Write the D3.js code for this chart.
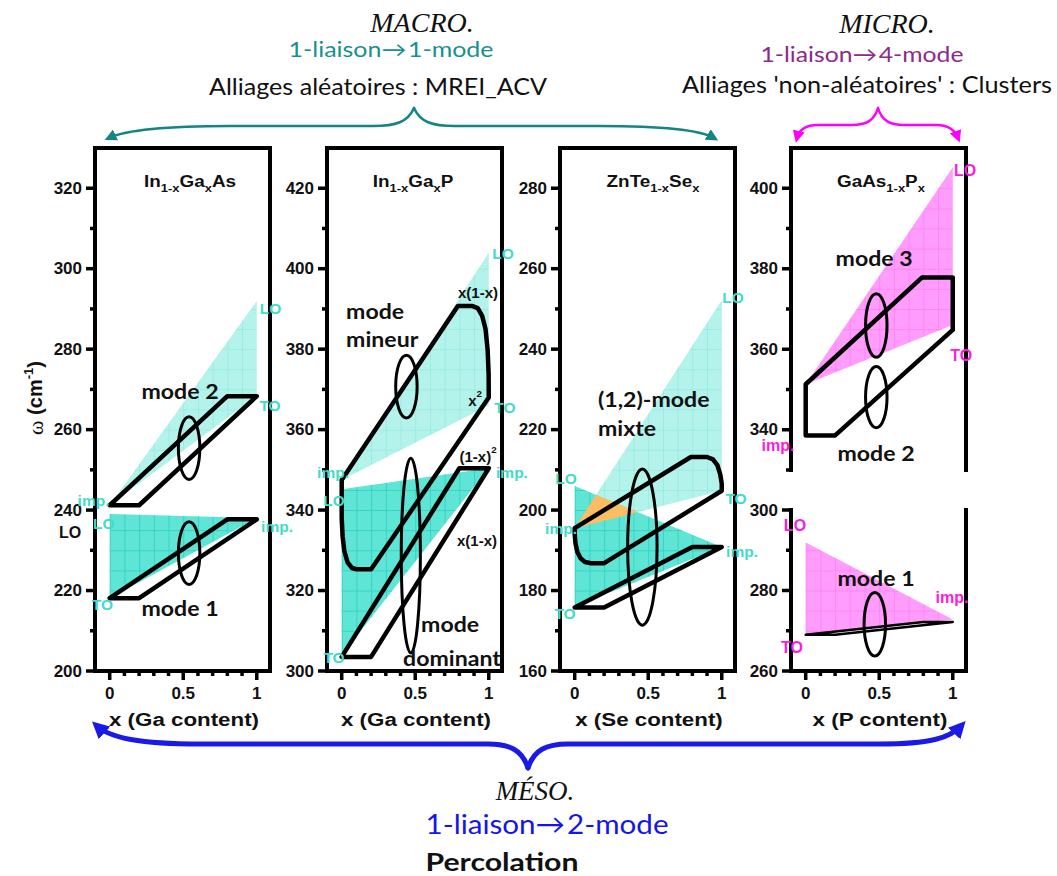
<!DOCTYPE html>
<html><head><meta charset="utf-8">
<script src="https://cdn.jsdelivr.net/npm/d3@7/dist/d3.min.js"></script>
<style>html,body{margin:0;padding:0;background:#fff;} svg{display:block;}</style>
</head><body>
<svg id="chart" width="1057" height="876"></svg>
<script>
// ================= DATA =================
const xMajorTicks = [0, 0.5, 1];
const xMinorTicks = [0.1, 0.2, 0.3, 0.4, 0.6, 0.7, 0.8, 0.9];
const xTickText = ["0", "0.5", "1"];
const xAxisTitles = ["x (Ga content)", "x (Ga content)", "x (Se content)", "x (P content)"];

// Panel 1 : In1-xGaxAs
const ingaasTitle = [["In", 0], ["1-x", 1], ["Ga", 0], ["x", 1], ["As", 0]];
const ingaasMajor = [200, 220, 240, 260, 280, 300, 320];
const ingaasMinor = [210, 230, 250, 270, 290, 310];
const ingaasLight = [[0, 241.2], [1, 292], [1, 268.3]];
const ingaasDense = [[0, 239], [1, 238], [0, 218.1]];
const ingaasMode2 = [[0, 241.2], [0.2, 241.2], [1, 268.3], [0.8, 268.3]];
const ingaasMode1 = [[0, 218.1], [0.2, 218.1], [1, 237.7], [0.8, 237.7]];
const ingaasEllipses = [[0.54, 255.4, 0.073, 7.8], [0.54, 229.3, 0.073, 7.8]];
const ingaasLabels = [
  ["LO", 1.094, 290.2, "c"], ["TO", 1.09, 266.1, "c"], ["imp.", -0.11, 242.5, "c"],
  ["LO", -0.04, 236.8, "c"], ["TO", -0.05, 216.7, "c"], ["imp.", 1.138, 236.0, "c"],
  ["LO", -0.27, 234.6, "k"], ["mode 2", 0.478, 269.8, "m"], ["mode 1", 0.478, 215.9, "m"]
];

// Panel 2 : In1-xGaxP
const ingapTitle = [["In", 0], ["1-x", 1], ["Ga", 0], ["x", 1], ["P", 0]];
const ingapMajor = [300, 320, 340, 360, 380, 400, 420];
const ingapMinor = [310, 330, 350, 370, 390, 410];
const ingapLight = [[0, 347.5], [1, 404], [1, 366]];
const ingapDense = [[0, 345.2], [1, 350.4], [0, 304]];
const ingapMineur = [
  [0, 347.5], [0.79, 390.7], [0.89, 390.7], [0.925, 390.2], [0.955, 388.3], [0.978, 385],
  [0.992, 380], [0.999, 374], [1, 368], [0.2, 325.3], [0.1, 325.3], [0.07, 325.6],
  [0.04, 327], [0.018, 329.8], [0.006, 333.5], [0, 338]
];
const ingapDominant = [[0, 303.5], [0.2, 303.5], [1, 350.4], [0.8, 350.4]];
const ingapEllipses = [[0.44, 370.7, 0.073, 7.8], [0.47, 328.7, 0.065, 24.2]];
const ingapLabels = [
  ["mode", 0.03, 389.7, "ms"], ["mineur", 0.03, 382.7, "ms"],
  ["x(1-x)", 0.927, 394.2, "s"], ["x^2", 0.907, 367.4, "s"], ["(1-x)^2", 0.927, 353.4, "s"],
  ["x(1-x)", 0.92, 332.6, "s"], ["mode", 0.737, 311.9, "m"], ["dominant", 0.75, 303.5, "m"],
  ["LO", 1.097, 403.9, "c"], ["TO", 1.11, 365.6, "c"], ["imp.", -0.059, 349.5, "c"],
  ["LO", -0.052, 342.5, "c"], ["TO", -0.052, 303.5, "c"], ["imp.", 1.158, 349.5, "c"]
];

// Panel 3 : ZnTe1-xSex
const zntesTitle = [["ZnTe", 0], ["1-x", 1], ["Se", 0], ["x", 1]];
const zntesMajor = [160, 180, 200, 220, 240, 260, 280];
const zntesMinor = [170, 190, 210, 230, 250, 270];
const zntesLight = [[0, 195.5], [1, 252.2], [1, 204.8]];
const zntesDense = [[0, 206], [1, 190.8], [0, 176]];
const zntesMixte = [
  [0, 195.5], [0.79, 213.2], [0.9, 213.2], [0.94, 212.6], [0.97, 211.2], [0.99, 208.8],
  [1, 206.5], [1, 204.8], [0.2, 186.8], [0.11, 186.8], [0.07, 187.1], [0.04, 188],
  [0.018, 189.6], [0.005, 191.8], [0, 194]
];
const zntesLower = [[0, 175.8], [0.2, 175.8], [1, 190.8], [0.8, 190.8]];
const zntesEllipses = [[0.46, 190.8, 0.1, 19.4]];
const zntesLabels = [
  ["(1,2)-mode", 0.158, 227.9, "ms"], ["mixte", 0.158, 220.7, "ms"],
  ["LO", 1.077, 253, "c"], ["TO", 1.097, 203, "c"], ["LO", -0.059, 208, "c"],
  ["imp.", -0.093, 195.5, "c"], ["TO", -0.066, 174.4, "c"], ["imp.", 1.138, 189.8, "c"]
];

// Panel 4 : GaAs1-xPx (broken axis)
const gaaspTitle = [["GaAs", 0], ["1-x", 1], ["P", 0], ["x", 1]];
const gaaspUpMajor = [340, 360, 380, 400];
const gaaspUpMinor = [330, 350, 370, 390];
const gaaspUpLight = [[0, 351.3], [1, 405.2], [1, 366]];
const gaaspHexagon = [[0, 351.3], [0.79, 377.8], [1, 377.8], [1, 364.8], [0.2, 338.6], [0, 338.6]];
const gaaspUpEllipses = [[0.48, 365.9, 0.073, 7.9], [0.48, 348.1, 0.073, 7.6]];
const gaaspUpLabels = [
  ["mode 3", 0.465, 382.9, "m"], ["mode 2", 0.478, 334.5, "m"],
  ["LO", 1.084, 404.6, "g"], ["TO", 1.057, 358.6, "g"], ["imp.", -0.188, 336.2, "g"]
];
const gaaspLoMajor = [260, 280, 300];
const gaaspLoMinor = [270, 290];
const gaaspLoLight = [[0, 291.9], [1, 272.8], [0, 269]];
const gaaspMode1 = [[0, 269], [0.2, 269], [1, 272.2], [0.8, 272.2]];
const gaaspLoEllipses = [[0.47, 271.6, 0.073, 7.9]];
const gaaspLoLabels = [
  ["mode 1", 0.478, 283.4, "m"], ["LO", -0.073, 296.3, "g"],
  ["imp.", 0.995, 278.4, "g"], ["TO", -0.093, 266, "g"]
];

// ================= STYLE / LAYOUT =================
const SANS = "'Liberation Sans', Arial, sans-serif";
const CAL = "Lato, 'Open Sans', sans-serif";
const SERIF = "'Liberation Serif', 'Times New Roman', serif";
const CYAN_LIGHT = "#b4f3ec", CYAN_DENSE = "#5ee5d6", CYAN_GRID = "#33d2c1";
const CYAN_TXT = "#3fdcc9", MAG = "#ff00ff", MAG_LIGHT = "#ff9cfc", MAG_TXT = "#ff1ad9", ORANGE = "#fdbd62";
const TOP = 148, BOTTOM = 671, PW = 175;

const labelStyles = {
  c: {font: SANS, size: 15.5, color: CYAN_TXT, anchor: "middle", stretch: 1},
  g: {font: SANS, size: 16, color: MAG_TXT, anchor: "middle", stretch: 1},
  k: {font: SANS, size: 16, color: "#111", anchor: "middle", stretch: 1},
  s: {font: SANS, size: 15, color: "#111", anchor: "middle", stretch: 1},
  m: {font: CAL, size: 21, color: "#111", anchor: "middle", stretch: 1.1},
  ms: {font: CAL, size: 21, color: "#111", anchor: "start", stretch: 1.1}
};

const panels = [
  {left: 95, title: ingaasTitle, titleX: 190, yTitle: true, segs: [
    {domain: [200, 330], range: [BOTTOM, TOP], top: true, bottom: true, major: ingaasMajor, minor: ingaasMinor,
     tone: "cyan", light: ingaasLight, dense: ingaasDense, shapes: [ingaasMode2, ingaasMode1],
     ellipses: ingaasEllipses, labels: ingaasLabels}]},
  {left: 327, title: ingapTitle, titleX: 413, segs: [
    {domain: [300, 430], range: [BOTTOM, TOP], top: true, bottom: true, major: ingapMajor, minor: ingapMinor,
     tone: "cyan", light: ingapLight, dense: ingapDense, shapes: [ingapMineur, ingapDominant],
     ellipses: ingapEllipses, labels: ingapLabels}]},
  {left: 560, title: zntesTitle, titleX: 653, segs: [
    {domain: [160, 290], range: [BOTTOM, TOP], top: true, bottom: true, major: zntesMajor, minor: zntesMinor,
     tone: "cyan", light: zntesLight, dense: zntesDense, overlap: true, shapes: [zntesMixte, zntesLower],
     ellipses: zntesEllipses, labels: zntesLabels}]},
  {left: 791, title: gaaspTitle, titleX: 881, segs: [
    {domain: [330, 410], range: [470, TOP], top: true, bottom: false, major: gaaspUpMajor, minor: gaaspUpMinor,
     tone: "mag", light: gaaspUpLight, shapes: [gaaspHexagon], ellipses: gaaspUpEllipses, labels: gaaspUpLabels},
    {domain: [260, 300], range: [BOTTOM, 510], top: false, bottom: true, major: gaaspLoMajor, minor: gaaspLoMinor,
     tone: "mag", light: gaaspLoLight, shapes: [gaaspMode1], thin: true, ellipses: gaaspLoEllipses, labels: gaaspLoLabels}]}
];

// ================= DRAW =================
const svg = d3.select("#chart");
const defs = svg.append("defs");
svg.append("rect").attr("width", 1057).attr("height", 876).attr("fill", "#fff");

function stretchTo(t, w) {
  t.attr("textLength", w).attr("lengthAdjust", "spacingAndGlyphs");
}
function stretchBy(t, f) {
  const L = t.node().getComputedTextLength();
  stretchTo(t, L * f);
}
function gridPattern(id, x0, y0, w, h, color, op) {
  const p = defs.append("pattern").attr("id", id).attr("x", x0).attr("y", y0)
    .attr("width", w).attr("height", h).attr("patternUnits", "userSpaceOnUse");
  p.append("path").attr("d", `M0,0.5H${w}M0.5,0V${h}`).attr("fill", "none")
    .attr("stroke", color).attr("stroke-width", 1).attr("stroke-opacity", op);
}
function marker(id, color, size) {
  defs.append("marker").attr("id", id).attr("viewBox", "0 0 10 10").attr("refX", 6).attr("refY", 5)
    .attr("markerWidth", size).attr("markerHeight", size).attr("markerUnits", "userSpaceOnUse")
    .attr("orient", "auto")
    .append("path").attr("d", "M0,0L10,5L0,10z").attr("fill", color);
}
marker("arTeal", "#138585", 12);
marker("arMag", MAG, 12);
marker("arBlue", "#1a1ae6", 17);

let segCount = 0;
panels.forEach((p, pi) => {
  const x = d3.scaleLinear().domain([-0.1, 1.09]).range([p.left, p.left + PW]);
  const right = p.left + PW;
  const pg = svg.append("g");

  p.segs.forEach(s => {
    const sid = segCount++;
    const y = d3.scaleLinear().domain(s.domain).range(s.range);
    const line = d3.line().x(d => x(d[0])).y(d => y(d[1])).curve(d3.curveLinearClosed);
    const gw = x(0.1) - x(0), gh = Math.abs(y(s.domain[0] + 5) - y(s.domain[0]));
    const cyan = s.tone === "cyan";
    gridPattern("gridL" + sid, x(0), y(s.domain[0]), gw, gh, cyan ? "#5fdccd" : "#ff4cf5", 0.3);
    gridPattern("gridD" + sid, x(0), y(s.domain[0]), gw, gh, CYAN_GRID, 0.9);

    // light (fine dotted) zone
    pg.append("path").attr("d", line(s.light)).attr("fill", cyan ? CYAN_LIGHT : MAG_LIGHT);
    pg.append("path").attr("d", line(s.light)).attr("fill", `url(#gridL${sid})`);
    // dense zone
    if (s.dense) {
      pg.append("path").attr("d", line(s.dense)).attr("fill", CYAN_DENSE);
      pg.append("path").attr("d", line(s.dense)).attr("fill", `url(#gridD${sid})`);
    }
    // overlap (orange)
    if (s.overlap) {
      defs.append("clipPath").attr("id", "clipOv" + sid).append("path").attr("d", line(s.dense));
      pg.append("path").attr("d", line(s.light)).attr("fill", ORANGE)
        .attr("clip-path", `url(#clipOv${sid})`);
    }
    // mode shapes
    s.shapes.forEach(sh => {
      pg.append("path").attr("d", line(sh)).attr("fill", "none").attr("stroke", "#000")
        .attr("stroke-width", s.thin ? 2.5 : 4.5).attr("stroke-linejoin", "round");
    });
    // ellipses
    pg.selectAll(null).data(s.ellipses).join("ellipse")
      .attr("cx", d => x(d[0])).attr("cy", d => y(d[1]))
      .attr("rx", d => x(d[2]) - x(0)).attr("ry", d => Math.abs(y(d[1] + d[3]) - y(d[1])))
      .attr("fill", "none").attr("stroke", "#000").attr("stroke-width", 3);

    // frame
    const yt = s.range[1], yb = s.range[0];
    let d = `M${p.left},${yb}L${p.left},${yt}`;
    if (s.top) d += `L${right},${yt}`; else d += `M${right},${yt}`;
    d += `L${right},${yb}`;
    if (s.bottom) d += `L${p.left},${yb}`;
    pg.append("path").attr("d", d).attr("fill", "none").attr("stroke", "#000")
      .attr("stroke-width", 4).attr("stroke-linejoin", "miter").attr("stroke-linecap", "square");

    // y ticks
    pg.selectAll(null).data(s.major).join("line")
      .attr("x1", p.left - 9).attr("x2", p.left).attr("y1", d => y(d)).attr("y2", d => y(d))
      .attr("stroke", "#000").attr("stroke-width", 3.5);
    pg.selectAll(null).data(s.minor).join("line")
      .attr("x1", p.left - 5).attr("x2", p.left).attr("y1", d => y(d)).attr("y2", d => y(d))
      .attr("stroke", "#000").attr("stroke-width", 3.5);
    pg.selectAll(null).data(s.major).join("text")
      .attr("x", p.left - 13).attr("y", d => y(d)).attr("text-anchor", "end")
      .attr("dominant-baseline", "central").attr("font-family", SANS).attr("font-weight", "bold")
      .attr("font-size", 17).attr("fill", "#111").text(d => d);

    // x axis ticks
    if (s.bottom) {
      pg.selectAll(null).data(xMajorTicks).join("line")
        .attr("x1", d => x(d)).attr("x2", d => x(d)).attr("y1", yb).attr("y2", yb + 9)
        .attr("stroke", "#000").attr("stroke-width", 3.5);
      pg.selectAll(null).data(xMinorTicks).join("line")
        .attr("x1", d => x(d)).attr("x2", d => x(d)).attr("y1", yb).attr("y2", yb + 5)
        .attr("stroke", "#000").attr("stroke-width", 3.5);
      pg.selectAll(null).data(xMajorTicks).join("text")
        .attr("x", d => x(d)).attr("y", yb + 28).attr("text-anchor", "middle")
        .attr("font-family", SANS).attr("font-weight", "bold").attr("font-size", 17).attr("fill", "#111")
        .text((d, i) => xTickText[i]);
      const xt = pg.append("text").attr("x", p.left + 89).attr("y", 726).attr("text-anchor", "middle")
        .attr("font-family", SANS).attr("font-weight", "bold").attr("font-size", 18).attr("fill", "#111")
        .text(xAxisTitles[pi]);
      stretchBy(xt, 1.24);
    }

    // labels
    s.labels.forEach(lab => {
      const [txt, xv, yv, kind] = lab;
      const st = labelStyles[kind];
      const t = pg.append("text").attr("x", x(xv)).attr("y", y(yv))
        .attr("text-anchor", st.anchor).attr("dominant-baseline", "central")
        .attr("font-family", st.font).attr("font-weight", "bold").attr("font-size", st.size)
        .attr("fill", st.color);
      const parts = txt.split("^");
      t.append("tspan").text(parts[0]);
      if (parts[1]) t.append("tspan").attr("dy", -7).attr("font-size", st.size * 0.65).text(parts[1]);
      if (st.stretch !== 1) stretchBy(t, st.stretch);
    });
  });

  // panel title
  const tt = pg.append("text").attr("x", p.titleX).attr("y", 187).attr("text-anchor", "middle")
    .attr("font-family", SANS).attr("font-weight", "bold").attr("font-size", 16).attr("fill", "#111");
  let shift = 0;
  p.title.forEach(([str, sub]) => {
    const target = sub ? 5 : 0;
    const ts = tt.append("tspan").attr("dy", target - shift).text(str);
    if (sub) ts.attr("font-size", 11);
    shift = target;
  });
  stretchBy(tt, 1.18);

  if (p.yTitle) {
    const yl = pg.append("text").attr("transform", "translate(35,398) rotate(-90)")
      .attr("text-anchor", "middle").attr("dominant-baseline", "central")
      .attr("font-family", SANS).attr("font-weight", "bold").attr("font-size", 20).attr("fill", "#111");
    yl.append("tspan").attr("font-family", SERIF).attr("font-weight", "normal").attr("font-size", 22).text("ω");
    yl.append("tspan").text(" (cm");
    yl.append("tspan").attr("dy", -7).attr("font-size", 13).text("-1");
    yl.append("tspan").attr("dy", 7).text(")");
  }
});

// ================= HEADERS & BRACES =================
function headText(str, cx, by, opts) {
  const t = svg.append("text").attr("x", cx).attr("y", by).attr("text-anchor", "middle")
    .attr("font-family", opts.font).attr("font-size", opts.size).attr("fill", opts.color || "#111")
    .attr("font-style", opts.italic ? "italic" : "normal").attr("font-weight", opts.bold ? "bold" : "normal")
    .text(str);
  if (opts.width) stretchTo(t, opts.width);
  return t;
}
headText("MACRO.", 422, 32, {font: SERIF, size: 28, italic: true});
headText("1-liaison\u2192\u200A1-mode", 391, 57, {font: CAL, size: 21, color: "#17908e", width: 205});
headText("Alliages aléatoires : MREI_ACV", 378, 95, {font: CAL, size: 23, width: 338});
headText("MICRO.", 887, 33, {font: SERIF, size: 28, italic: true});
headText("1-liaison\u2192\u200A4-mode", 862, 62, {font: CAL, size: 21, color: "#8c2a8c", width: 203});
headText("Alliages 'non-aléatoires' : Clusters", 867, 93, {font: CAL, size: 23, width: 370});
headText("MÉSO.", 535, 800, {font: SERIF, size: 27, italic: true});
headText("1-liaison\u2192\u200A2-mode", 547, 834, {font: CAL, size: 27, color: "#1414ee", width: 243});
headText("Percolation", 502, 871, {font: CAL, size: 25, bold: true, width: 153});

function brace(paths, color, width, mk) {
  paths.forEach(dd => {
    svg.append("path").attr("d", dd).attr("fill", "none").attr("stroke", color)
      .attr("stroke-width", width).attr("stroke-linecap", "round").attr("marker-end", `url(#${mk})`);
  });
}
brace([
  "M414,108C408,122 396,126 373,126L230,126C170,126 126,130 109,138",
  "M414,108C420,122 432,126 455,126L600,126C660,126 700,130 714,138"
], "#138585", 2.5, "arTeal");
brace([
  "M878,108C874,121 866,125 852,125L818,125C806,125 799,130 797,138",
  "M878,108C882,121 890,125 904,125L936,125C948,125 955,130 958,138"
], MAG, 2.5, "arMag");
brace([
  "M528,768C522,750 510,744 488,744L200,744C140,744 110,738 97,726",
  "M528,768C534,750 546,744 568,744L880,744C930,744 950,738 961,726"
], "#1a1ae6", 5, "arBlue");
</script>
</body></html>
